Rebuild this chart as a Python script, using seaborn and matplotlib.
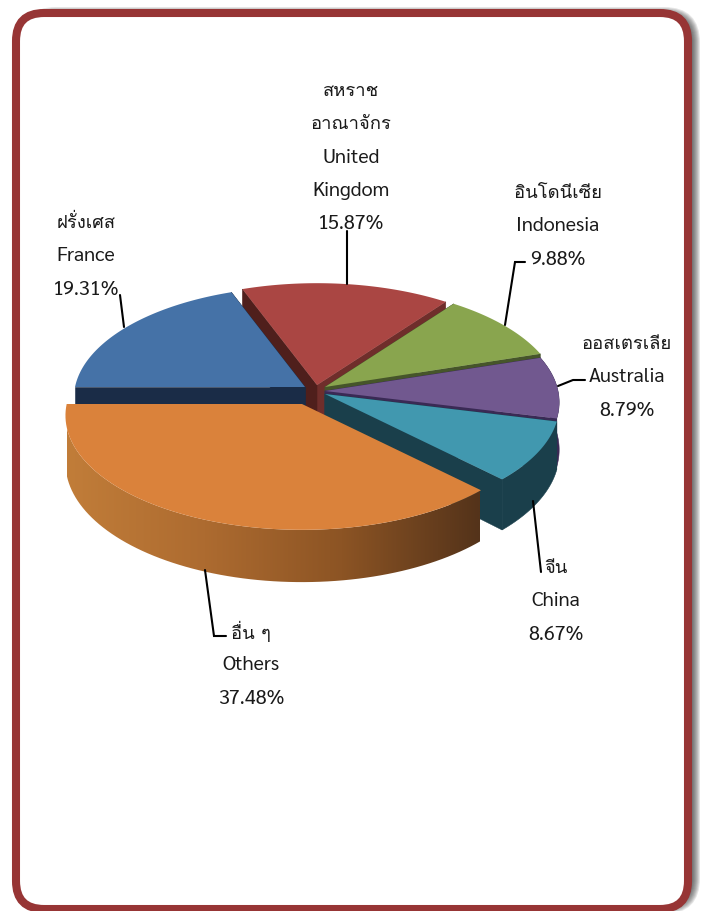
import matplotlib
matplotlib.use("Agg")
import matplotlib.pyplot as plt
from matplotlib.colors import LinearSegmentedColormap
from matplotlib.patches import FancyBboxPatch, Polygon
import numpy as np
import seaborn as sns

# values in drawing order, counter clockwise from the left side of the pie
names = ["Others", "China", "Australia", "Indonesia", "United Kingdom", "France"]
shares = [37.48, 8.67, 8.79, 9.88, 15.87, 19.31]

top_colors = ["#DA823B", "#4198AF", "#71588F", "#89A54E", "#AA4643", "#4572A7"]
side_colors = ["#7E4A1E", "#1A3F4B", "#3A2A55", "#46552A", "#6F2E2B", "#1A2C47"]
wall_gradient = ["#C17D39", "#AD6B30", "#8C5424", "#54331A"]

# apex of each exploded slice and its radius factor, in picture pixels
apex_x = [302, 325, 325, 325, 317, 305]
apex_y = [405, 395, 392, 388, 386, 388]
rim = [1.01, 1.0, 1.0, 1.0, 1.0, 0.987]

label_lines = [
    ["อื่น ๆ", "Others", "37.48%"],
    ["จีน", "China", "8.67%"],
    ["ออสเตรเลีย", "Australia", "8.79%"],
    ["อินโดนีเซีย", "Indonesia", "9.88%"],
    ["สหราช", "อาณาจักร", "United", "Kingdom", "15.87%"],
    ["ฝรั่งเศส", "France", "19.31%"],
]
label_x = [251, 556, 627, 558, 351, 86]
label_y = [632, 568, 344, 193, 91, 223]
leaders = [
    [(205, 571), (214, 637), (226, 637)],
    [(533, 502), (541, 573)],
    [(585, 381), (573, 381), (558, 387)],
    [(525, 263), (515, 263), (505, 326)],
    [(347, 232), (347, 285)],
    [(120, 296), (124, 328)],
]

RX, RY, PERSP, DEPTH = 233, 112, 0.10, 47

sns.set_theme(style="white")
plt.rcParams["font.family"] = ["Sarabun", "DejaVu Sans"]
palette = sns.color_palette(top_colors)
side_palette = sns.color_palette(side_colors)


def project(i, theta, r=1.0, drop=0.0):
    r = r * rim[i]
    f = 1.0 / (1.0 + PERSP * r * np.sin(theta))
    x = apex_x[i] + RX * r * np.cos(theta) * f
    y = apex_y[i] - RY * r * np.sin(theta) * f + drop * DEPTH * f
    return x, y


def arc(i, a0, a1, drop=0.0):
    t = np.linspace(a0, a1, 80)
    return [project(i, v, 1.0, drop) for v in t]


fig = plt.figure(figsize=(7.04, 9.12), dpi=100)
ax = fig.add_axes([0, 0, 1, 1])
ax.set_axis_off()

# frame with soft shadow
for k in range(1, 11):
    ax.add_patch(FancyBboxPatch((30, 18), 660, 887,
                                boxstyle=f"round,pad={k},rounding_size={26 + k}",
                                fc="#303030", ec="none", alpha=0.12, zorder=1))
ax.add_patch(FancyBboxPatch((44, 42), 616, 840, boxstyle="round,pad=28,rounding_size=28",
                            fc="white", ec="#973535", lw=5.8, zorder=2))

edges = np.cumsum([0.0] + shares) / sum(shares) * 2 * np.pi + np.pi

# order from back to front so nearer slices cover the cut faces
z = 3
for i in [4, 5, 3, 2, 1]:
    a0, a1 = edges[i], edges[i + 1]
    apex = (apex_x[i], apex_y[i])
    low = (apex[0], apex[1] + DEPTH)
    c = side_palette[i]
    ax.add_patch(Polygon([apex, project(i, a0), project(i, a0, 1.0, 1.0), low], fc=c, ec=c, lw=0.4, zorder=z))
    # the left cut of the red slice is darker than the right one
    c1 = "#4F1F1C" if i == 4 else c
    ax.add_patch(Polygon([apex, project(i, a1), project(i, a1, 1.0, 1.0), low], fc=c1, ec=c1, lw=0.4, zorder=z))
    if i in (1, 2):
        ax.add_patch(Polygon(arc(i, a0, a1) + arc(i, a0, a1, 1.0)[::-1], fc=c, ec=c, lw=0.4, zorder=z))
    z += 1

for i in [4, 5, 3, 2, 1]:
    ax.add_patch(Polygon([(apex_x[i], apex_y[i])] + arc(i, edges[i], edges[i + 1]),
                         fc=palette[i], ec="none", zorder=z))
    z += 1

# big orange slice sits in front, its wall has a left to right gradient
wall = Polygon(arc(0, edges[0], edges[1]) + arc(0, edges[0], edges[1], 1.0)[::-1],
               fc="none", ec="none", zorder=z, transform=ax.transData)
ax.add_patch(wall)
cmap = LinearSegmentedColormap.from_list("wall", wall_gradient)
grad = ax.imshow(np.linspace(0, 1, 256).reshape(1, -1), cmap=cmap, aspect="auto",
                 extent=(67, 480, 600, 400), zorder=z)
grad.set_clip_path(wall)
z += 1
ax.add_patch(Polygon([(apex_x[0], apex_y[0])] + arc(0, edges[0], edges[1]),
                     fc=palette[0], ec="none", zorder=z))
z += 1

for pts in leaders:
    ax.plot([p[0] for p in pts], [p[1] for p in pts], color="black", lw=1.5,
            solid_joinstyle="miter", zorder=z)

for x, y0, lines in zip(label_x, label_y, label_lines):
    for n, line in enumerate(lines):
        # Loma keeps stacked Thai tone marks readable without text shaping
        is_thai = any("\u0e00" <= ch <= "\u0e7f" for ch in line)
        ax.text(x, y0 + n * 33.3, line, ha="center", va="center",
                fontsize=13.3 if is_thai else 14.3,
                family=["Loma", "DejaVu Sans"] if is_thai else ["Sarabun", "DejaVu Sans"],
                color="#1A1A1A", zorder=z + 1)

ax.set_xlim(0, 704)
ax.set_ylim(912, 0)
fig.savefig("out.png", dpi=100)
